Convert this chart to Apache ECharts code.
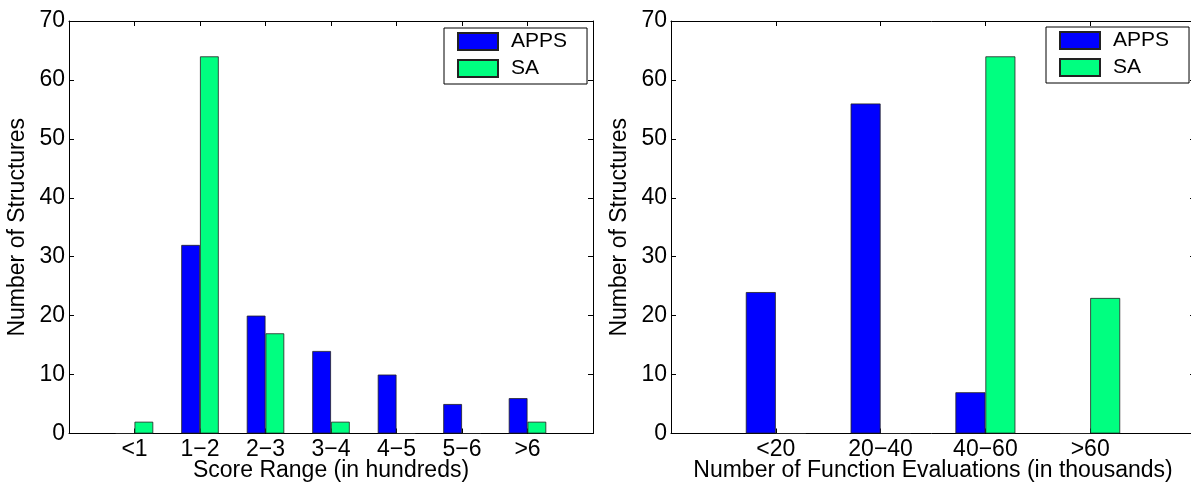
<!DOCTYPE html>
<html>
<head>
<meta charset="utf-8">
<script src="https://cdn.jsdelivr.net/npm/echarts@6/dist/echarts.min.js"></script>
<style>
html,body{margin:0;padding:0;background:#fff;}
#chart{width:1191px;height:485px;}
</style>
</head>
<body>
<div id="chart"></div>
<script>
// ---- data ----
const scoreCategories = ['<1', '1\u22122', '2\u22123', '3\u22124', '4\u22125', '5\u22126', '>6'];
const scoreAPPS = [0, 32, 20, 14, 10, 5, 6];
const scoreSA = [2, 64, 17, 2, 0, 0, 2];

const evalCategories = ['<20', '20\u221240', '40\u221260', '>60'];
const evalAPPS = [24, 56, 7, 0];
const evalSA = [0, 0, 64, 23];

const yTicks = { min: 0, max: 70, interval: 10 };
const seriesNames = ['APPS', 'SA'];
const xNames = ['Score Range (in hundreds)', 'Number of Function Evaluations (in thousands)'];
const yName = 'Number of Structures';

// ---- build ----
const FONT = "'Liberation Sans', Arial, Helvetica, sans-serif";
const FS = 23;
const LFS = 21;
const colors = ['#0000ff', '#00ff80'];

function pad(arr, v) { return [v].concat(arr, [v]); }

const grids = [
  { left: 69, top: 21, width: 524, height: 412.5, containLabel: false, outerBoundsMode: 'none' },
  { left: 671, top: 21, width: 524, height: 412.5, containLabel: false, outerBoundsMode: 'none' }
];
const catSets = [scoreCategories, evalCategories];
const dataSets = [[scoreAPPS, scoreSA], [evalAPPS, evalSA]];

const xAxis = [], yAxis = [], series = [];
catSets.forEach((cats, g) => {
  const padded = pad(cats, '');
  xAxis.push({
    type: 'category', gridIndex: g, data: padded, boundaryGap: false, position: 'bottom',
    name: xNames[g], nameLocation: 'middle', nameGap: 26, nameMoveOverlap: false,
    nameTextStyle: { fontFamily: FONT, fontSize: FS, color: '#000', lineHeight: 23 },
    axisLine: { show: true, onZero: false, lineStyle: { color: '#000', width: 1 } },
    axisTick: { show: true, inside: true, length: 5, interval: 0, lineStyle: { color: '#000' } },
    axisLabel: { show: true, interval: 0, margin: 5, fontFamily: FONT, fontSize: FS, color: '#000' },
    splitLine: { show: false }
  });
  xAxis.push({
    type: 'category', gridIndex: g, data: padded, boundaryGap: false, position: 'top',
    axisLine: { show: true, onZero: false, lineStyle: { color: '#000', width: 1 } },
    axisTick: { show: true, inside: true, length: 5, interval: 0, lineStyle: { color: '#000' } },
    axisLabel: { show: false }, splitLine: { show: false }
  });
  yAxis.push({
    type: 'value', gridIndex: g, min: yTicks.min, max: yTicks.max, interval: yTicks.interval, position: 'left',
    name: yName, nameLocation: 'middle', nameGap: 40, nameRotate: 90, nameMoveOverlap: false,
    nameTextStyle: { fontFamily: FONT, fontSize: FS, color: '#000' },
    axisLine: { show: true, onZero: false, lineStyle: { color: '#000', width: 1 } },
    axisTick: { show: true, inside: true, length: 5, lineStyle: { color: '#000' } },
    axisLabel: { show: true, margin: 4, fontFamily: FONT, fontSize: FS, color: '#000' },
    splitLine: { show: false }
  });
  yAxis.push({
    type: 'value', gridIndex: g, min: yTicks.min, max: yTicks.max, interval: yTicks.interval, position: 'right',
    axisLine: { show: true, onZero: false, lineStyle: { color: '#000', width: 1 } },
    axisTick: { show: true, inside: true, length: 5, lineStyle: { color: '#000' } },
    axisLabel: { show: false }, splitLine: { show: false }
  });
  dataSets[g].forEach((vals, s) => {
    series.push({
      type: 'bar', name: seriesNames[s],
      xAxisIndex: g * 2, yAxisIndex: g * 2,
      data: pad(vals, '-'),
      barWidth: '28.6%', barGap: '0%',
      itemStyle: { color: colors[s], borderColor: '#222', borderWidth: 0.8 },
      emphasis: { disabled: true },
      animation: false
    });
  });
});

const legendBase = {
  orient: 'vertical', data: seriesNames, icon: 'rect',
  itemWidth: 40, itemHeight: 17, itemGap: 6,
  backgroundColor: '#fff', borderColor: '#000', borderWidth: 1,
  padding: [3, 20, 5, 13],
  textStyle: { fontFamily: FONT, fontSize: LFS, color: '#000', padding: [0, 0, 0, 8] },
  selectedMode: false
};

const option = {
  backgroundColor: '#fff',
  animation: false,
  grid: grids,
  xAxis, yAxis, series,
  legend: [
    Object.assign({}, legendBase, { left: 444, top: 28 }),
    Object.assign({}, legendBase, { left: 1046, top: 27 })
  ]
};

const chart = echarts.init(document.getElementById('chart'), null, { renderer: 'canvas' });
chart.setOption(option);
</script>
</body>
</html>
